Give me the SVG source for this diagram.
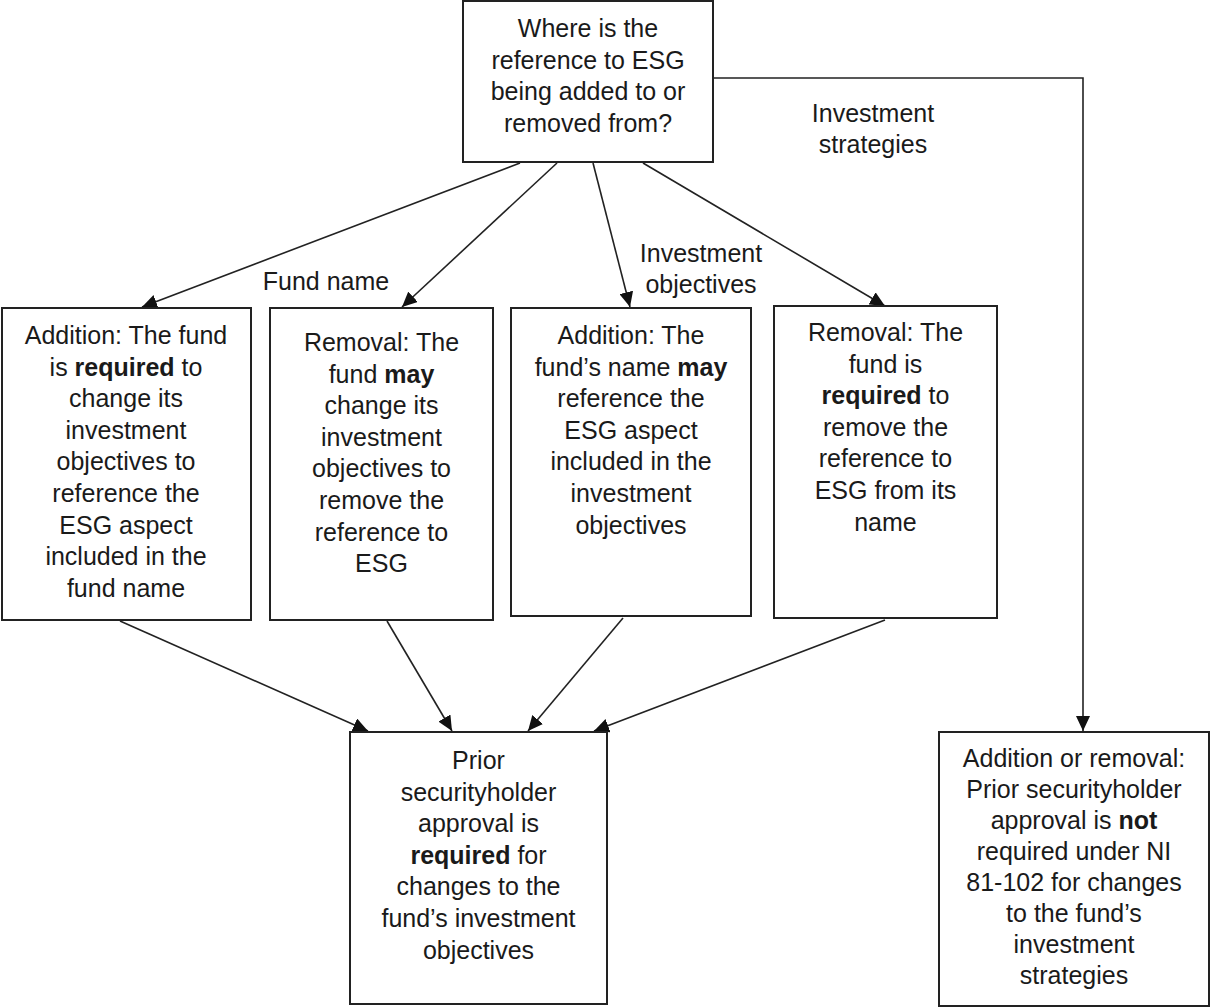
<svg xmlns="http://www.w3.org/2000/svg" width="1210" height="1008" viewBox="0 0 1210 1008">
<style>
.box{fill:#fff;stroke:#222;stroke-width:2}
.t{font-family:"Liberation Sans",Arial,sans-serif;font-size:25px;fill:#1a1a1a;text-anchor:middle}
.b{font-weight:bold}
.c{fill:none;stroke:#222;stroke-width:1.6}
</style>
<defs>
<marker id="ah" markerUnits="userSpaceOnUse" markerWidth="16" markerHeight="14" refX="15" refY="7" orient="auto">
<path d="M0,0 L15,7 L0,14 Z" fill="#111"/>
</marker>
</defs>
<rect width="1210" height="1008" fill="#fff"/>
<g id="connectors">
<line class="c" x1="520" y1="163" x2="142" y2="307" marker-end="url(#ah)"/>
<line class="c" x1="557" y1="163" x2="402" y2="307" marker-end="url(#ah)"/>
<line class="c" x1="593" y1="163" x2="630" y2="307" marker-end="url(#ah)"/>
<line class="c" x1="643" y1="163" x2="885" y2="306" marker-end="url(#ah)"/>
<path class="c" d="M713,78 H1083 V731" marker-end="url(#ah)"/>
<line class="c" x1="120" y1="621" x2="368" y2="731" marker-end="url(#ah)"/>
<line class="c" x1="387" y1="621" x2="452" y2="731" marker-end="url(#ah)"/>
<line class="c" x1="623" y1="618" x2="528" y2="731" marker-end="url(#ah)"/>
<line class="c" x1="885" y1="620" x2="594" y2="731" marker-end="url(#ah)"/>
<text class="t" x="873" y="122">Investment</text>
<text class="t" x="873" y="153">strategies</text>
<text class="t" x="326" y="290">Fund name</text>
<text class="t" x="701" y="262">Investment</text>
<text class="t" x="701" y="293">objectives</text>
</g>
<g id="start">
<rect class="box" x="463" y="1" width="250" height="161"/>
<text class="t" x="588" y="37">Where is the</text>
<text class="t" x="588" y="68.5">reference to ESG</text>
<text class="t" x="588" y="100">being added to or</text>
<text class="t" x="588" y="131.5">removed from?</text>
</g>
<g id="add-name">
<rect class="box" x="2" y="308" width="249" height="312"/>
<text class="t" x="126" y="344">Addition: The fund</text>
<text class="t" x="126" y="375.6">is <tspan class="b">required</tspan> to</text>
<text class="t" x="126" y="407.2">change its</text>
<text class="t" x="126" y="438.8">investment</text>
<text class="t" x="126" y="470.4">objectives to</text>
<text class="t" x="126" y="502">reference the</text>
<text class="t" x="126" y="533.6">ESG aspect</text>
<text class="t" x="126" y="565.2">included in the</text>
<text class="t" x="126" y="596.8">fund name</text>
</g>
<g id="remove-name">
<rect class="box" x="270" y="308" width="223" height="312"/>
<text class="t" x="381.5" y="351">Removal: The</text>
<text class="t" x="381.5" y="382.6">fund <tspan class="b">may</tspan></text>
<text class="t" x="381.5" y="414.2">change its</text>
<text class="t" x="381.5" y="445.8">investment</text>
<text class="t" x="381.5" y="477.4">objectives to</text>
<text class="t" x="381.5" y="509">remove the</text>
<text class="t" x="381.5" y="540.6">reference to</text>
<text class="t" x="381.5" y="572.2">ESG</text>
</g>
<g id="add-objectives">
<rect class="box" x="511" y="308" width="240" height="308"/>
<text class="t" x="631" y="344">Addition: The</text>
<text class="t" x="631" y="375.6">fund’s name <tspan class="b">may</tspan></text>
<text class="t" x="631" y="407.2">reference the</text>
<text class="t" x="631" y="438.8">ESG aspect</text>
<text class="t" x="631" y="470.4">included in the</text>
<text class="t" x="631" y="502">investment</text>
<text class="t" x="631" y="533.6">objectives</text>
</g>
<g id="remove-objectives">
<rect class="box" x="774" y="306" width="223" height="312"/>
<text class="t" x="885.5" y="341">Removal: The</text>
<text class="t" x="885.5" y="372.6">fund is</text>
<text class="t" x="885.5" y="404.2"><tspan class="b">required</tspan> to</text>
<text class="t" x="885.5" y="435.8">remove the</text>
<text class="t" x="885.5" y="467.4">reference to</text>
<text class="t" x="885.5" y="499">ESG from its</text>
<text class="t" x="885.5" y="530.6">name</text>
</g>
<g id="approval-required">
<rect class="box" x="350" y="732" width="257" height="272"/>
<text class="t" x="478.5" y="769">Prior</text>
<text class="t" x="478.5" y="800.6">securityholder</text>
<text class="t" x="478.5" y="832.2">approval is</text>
<text class="t" x="478.5" y="863.8"><tspan class="b">required</tspan> for</text>
<text class="t" x="478.5" y="895.4">changes to the</text>
<text class="t" x="478.5" y="927">fund’s investment</text>
<text class="t" x="478.5" y="958.6">objectives</text>
</g>
<g id="approval-not-required">
<rect class="box" x="939" y="732" width="270" height="274"/>
<text class="t" x="1074" y="767">Addition or removal:</text>
<text class="t" x="1074" y="798">Prior securityholder</text>
<text class="t" x="1074" y="829">approval is <tspan class="b">not</tspan></text>
<text class="t" x="1074" y="860">required under NI</text>
<text class="t" x="1074" y="891">81-102 for changes</text>
<text class="t" x="1074" y="922">to the fund’s</text>
<text class="t" x="1074" y="953">investment</text>
<text class="t" x="1074" y="984">strategies</text>
</g>
</svg>
